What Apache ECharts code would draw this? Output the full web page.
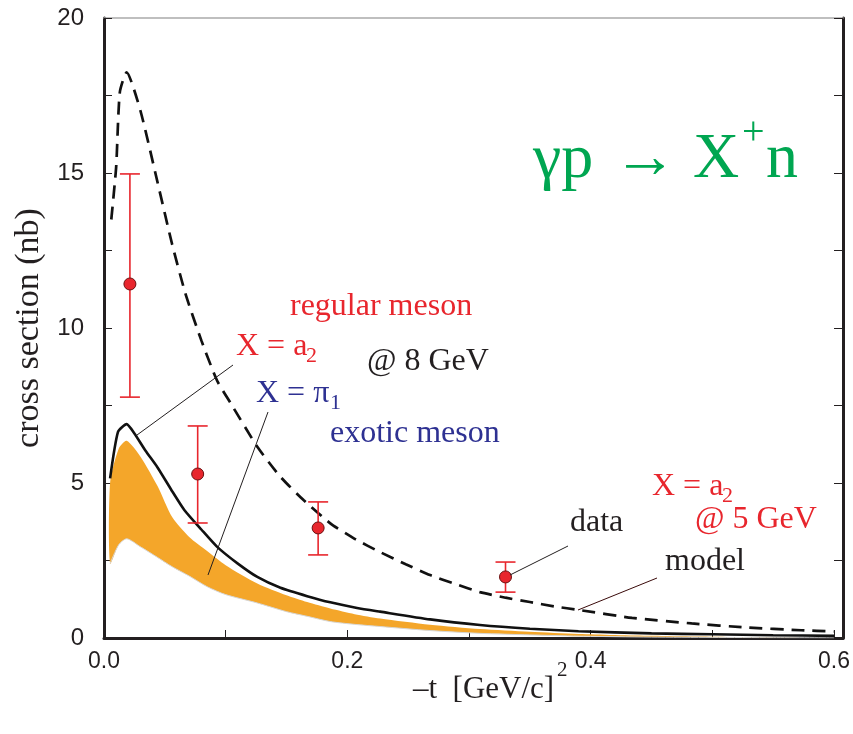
<!DOCTYPE html>
<html>
<head>
<meta charset="utf-8">
<script src="https://cdn.jsdelivr.net/npm/echarts@6/dist/echarts.min.js"></script>
<style>
    html, body { margin: 0; padding: 0; background: #fff; }
    #main { width: 853px; height: 734px; }
</style>
</head>
<body>
<div id="main"></div>
<script>
// X = a2 @ 5 GeV, model (dashed)
var tDash = [0.006, 0.01, 0.013, 0.0186, 0.03, 0.044, 0.056, 0.067, 0.08, 0.093, 0.104, 0.126, 0.145, 0.164, 0.186, 0.206, 0.227, 0.248, 0.268, 0.289, 0.309, 0.33, 0.35, 0.37, 0.391, 0.434, 0.483, 0.528, 0.573, 0.6];
var sigDash = [13.5, 15.2, 17.6, 18.25, 17.0, 14.7, 12.7, 11.1, 9.6, 8.3, 7.58, 6.17, 5.2, 4.45, 3.7, 3.2, 2.77, 2.38, 2.03, 1.74, 1.48, 1.3, 1.16, 1.02, 0.9, 0.65, 0.47, 0.34, 0.25, 0.21];

// X = a2 @ 8 GeV (solid)
var tSolid = [0.005, 0.0115, 0.0186, 0.025, 0.034, 0.044, 0.055, 0.066, 0.08, 0.093, 0.11, 0.126, 0.145, 0.167, 0.186, 0.208, 0.227, 0.268, 0.309, 0.35, 0.39, 0.45, 0.5, 0.55, 0.6];
var sigSolid = [5.15, 6.65, 6.9, 6.6, 6.05, 5.5, 4.8, 4.13, 3.5, 2.94, 2.4, 1.97, 1.62, 1.35, 1.15, 0.97, 0.85, 0.6, 0.42, 0.3, 0.22, 0.15, 0.12, 0.09, 0.07];

// X = pi1 @ 8 GeV (band)
var tBand = [0.005, 0.012, 0.0186, 0.03, 0.044, 0.056, 0.07, 0.085, 0.1, 0.126, 0.15, 0.167, 0.186, 0.206, 0.227, 0.268, 0.309, 0.35, 0.39, 0.45, 0.5, 0.55, 0.6];
var bandLow = [2.4, 3.0, 3.2, 2.94, 2.6, 2.3, 2.0, 1.65, 1.4, 1.13, 0.85, 0.7, 0.53, 0.44, 0.37, 0.24, 0.15, 0.1, 0.06, 0.03, 0.02, 0.01, 0.005];
var bandHigh = [5.0, 6.1, 6.36, 5.85, 4.9, 3.9, 3.26, 2.8, 2.35, 1.76, 1.38, 1.16, 0.95, 0.77, 0.63, 0.43, 0.29, 0.2, 0.13, 0.07, 0.04, 0.02, 0.01];

// data points with error bars
var dataT = [0.0213, 0.077, 0.176, 0.33];
var dataSig = [11.42, 5.29, 3.55, 1.97];
var dataLo = [7.77, 3.71, 2.68, 1.48];
var dataHi = [14.97, 6.84, 4.39, 2.45];

var xTicks = [0, 0.2, 0.4, 0.6];
var yTicks = [0, 5, 10, 15, 20];

var RED = '#e8262d', BLUE = '#2e3192', INK = '#231f20', GREEN = '#00a651';
var SERIF = '"Liberation Serif", "DejaVu Serif", serif';
var SANS = '"Liberation Sans", Arial, sans-serif';

function pairs(xs, ys) {
    return xs.map(function (x, i) { return [x, ys[i]]; });
}

// text placed by its baseline
function label(str, x, base, size, color) {
    return {
        type: 'text', x: x, y: base - 0.34 * size, z: 50,
        style: { text: str, fill: color, fontSize: size, fontFamily: SERIF, verticalAlign: 'middle', align: 'left' }
    };
}
function leader(x1, y1, x2, y2, color) {
    return {
        type: 'line', z: 50, shape: { x1: x1, y1: y1, x2: x2, y2: y2 },
        style: { stroke: color || INK, lineWidth: 1 }
    };
}

var myChart = echarts.init(document.getElementById('main'));
var option = {
    animation: false,
    backgroundColor: '#fff',
    grid: { left: 104, right: 9, top: 18, bottom: 96 },
    xAxis: [{
        type: 'value', min: 0, max: 0.6074, interval: 0.1,
        axisLine: { onZero: false, lineStyle: { color: INK, width: 3 } },
        axisTick: { inside: true, length: 8, lineStyle: { color: INK, width: 1 } },
        axisLabel: {
            margin: 12, fontFamily: SANS, fontSize: 23, color: INK,
            formatter: function (v) {
                for (var i = 0; i < xTicks.length; i++) {
                    if (Math.abs(v - xTicks[i]) < 1e-6) return v.toFixed(1);
                }
                return '';
            }
        },
        splitLine: { show: false }
    }, {
        type: 'value', position: 'top', min: 0, max: 0.6074,
        axisLine: { onZero: false, lineStyle: { color: '#aaaaaa', width: 1.5 } },
        axisTick: { show: false }, axisLabel: { show: false }, splitLine: { show: false }
    }],
    yAxis: [{
        type: 'value', min: 0, max: 20, interval: 2.5,
        name: 'cross section (nb)',
        nameLocation: 'middle', nameGap: 56,
        nameTextStyle: { fontFamily: SERIF, fontSize: 34, color: INK },
        axisLine: { onZero: false, lineStyle: { color: INK, width: 3 } },
        axisTick: { inside: true, length: 8, lineStyle: { color: INK, width: 1 } },
        axisLabel: {
            margin: 20, fontFamily: SANS, fontSize: 24, color: INK,
            formatter: function (v) { return yTicks.indexOf(v) >= 0 ? String(v) : ''; }
        },
        splitLine: { show: false }
    }, {
        type: 'value', position: 'right', min: 0, max: 20, interval: 2.5,
        axisLine: { show: true, onZero: false, lineStyle: { color: INK, width: 3 } },
        axisTick: { show: true, inside: true, length: 9, lineStyle: { color: INK, width: 1 } },
        axisLabel: { show: false }, splitLine: { show: false }
    }],
    series: [
        {
            name: 'pi1 band', type: 'custom', z: 1,
            data: tBand.map(function (t, i) { return [t, bandLow[i], bandHigh[i]]; }),
            encode: { x: 0, y: [1, 2] },
            renderItem: function (params, api) {
                if (params.dataIndex !== 0) return;
                var pts = [];
                for (var i = 0; i < tBand.length; i++) pts.push(api.coord([tBand[i], bandHigh[i]]));
                for (var j = tBand.length - 1; j >= 0; j--) pts.push(api.coord([tBand[j], bandLow[j]]));
                return {
                    type: 'polygon',
                    shape: { points: pts, smooth: 0.25 },
                    style: { fill: '#f4a62a', stroke: null }
                };
            }
        },
        {
            name: 'pi1 low', type: 'line', smooth: 0.25, symbol: 'none', z: 2,
            data: pairs(tBand, bandLow),
            lineStyle: { color: '#d6d6d6', width: 1 }
        },
        {
            name: 'a2 8 GeV', type: 'line', smooth: 0.2, symbol: 'none', z: 3,
            data: pairs(tSolid, sigSolid),
            lineStyle: { color: '#111', width: 2.6 }
        },
        {
            name: 'a2 5 GeV model', type: 'line', smooth: 0.2, symbol: 'none', z: 3,
            data: pairs(tDash, sigDash),
            lineStyle: { color: '#111', width: 2.7, type: [13, 8] }
        },
        {
            name: 'error', type: 'custom', z: 4,
            data: dataT.map(function (t, i) { return [t, dataLo[i], dataHi[i]]; }),
            encode: { x: 0, y: [1, 2] },
            renderItem: function (params, api) {
                var lo = api.coord([api.value(0), api.value(1)]);
                var hi = api.coord([api.value(0), api.value(2)]);
                var s = { stroke: RED, lineWidth: 1.6 };
                return {
                    type: 'group',
                    children: [
                        { type: 'line', shape: { x1: lo[0], y1: lo[1], x2: hi[0], y2: hi[1] }, style: s },
                        { type: 'line', shape: { x1: lo[0] - 10, y1: lo[1], x2: lo[0] + 10, y2: lo[1] }, style: s },
                        { type: 'line', shape: { x1: hi[0] - 10, y1: hi[1], x2: hi[0] + 10, y2: hi[1] }, style: s }
                    ]
                };
            }
        },
        {
            name: 'data', type: 'scatter', z: 5, symbol: 'circle', symbolSize: 12,
            data: pairs(dataT, dataSig),
            itemStyle: { color: RED, borderColor: '#6b1010', borderWidth: 1, opacity: 1 }
        }
    ],
    graphic: [
        // axis title
        label('–t  [GeV/c]', 413, 700, 31, INK),
        label('2', 557, 678, 21, INK),

        label('γp', 533, 182, 64, GREEN),
        label('→', 613, 182, 64, GREEN),
        label('X', 693, 182, 64, GREEN),
        label('+', 742, 147, 40, GREEN),
        label('n', 766, 182, 64, GREEN),

        label('regular meson', 290, 317, 32, RED),
        label('X = a', 236, 357, 32, RED),
        label('2', 306, 364, 22, RED),
        label('@ 8 GeV', 367, 372, 32, INK),
        label('X = π', 256, 404, 32, BLUE),
        label('1', 330, 411, 22, BLUE),
        label('exotic meson', 330, 444, 32, BLUE),

        label('X = a', 652, 497, 32, RED),
        label('2', 722, 504, 22, RED),
        label('@ 5 GeV', 695, 530, 32, RED),
        label('data', 570, 533, 32, INK),
        label('model', 665, 572, 32, INK),

        leader(233, 365, 137, 435),
        leader(268, 412, 208, 575),
        leader(568, 546, 510, 575),
        leader(657, 578, 578, 610, '#3a0a0a')
    ]
};
myChart.setOption(option);
</script>
</body>
</html>
